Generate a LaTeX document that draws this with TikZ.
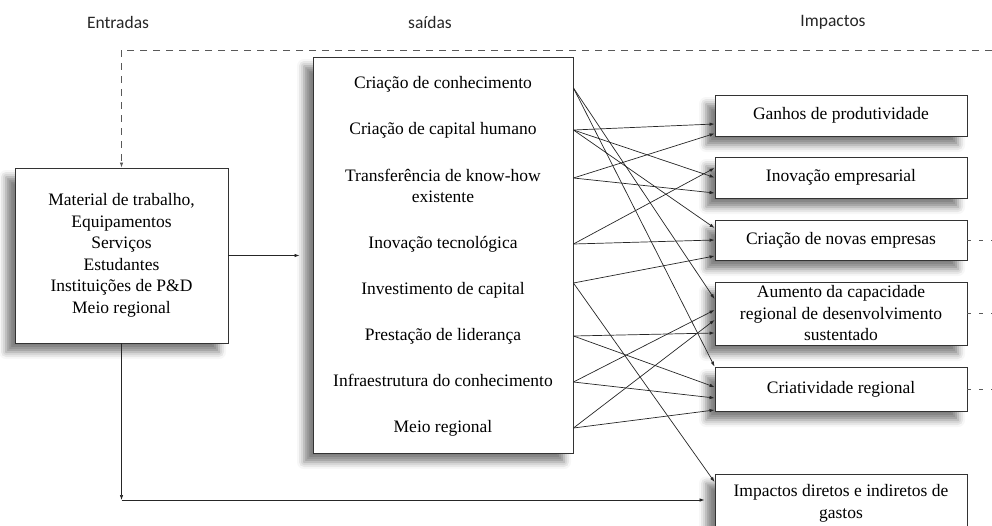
\documentclass[tikz,border=0pt]{standalone}
\usepackage{fontspec}
\setmainfont{Liberation Serif}
\newfontfamily\headfont{Carlito}
\usetikzlibrary{arrows.meta,shadows.blur,calc}

\begin{document}
\begin{tikzpicture}[x=1pt, y=-1pt, font=\fontsize{17.5}{21.5}\selectfont]
  \tikzstyle{box}=[draw=black!80, line width=0.9pt, fill=white, align=center,
     blur shadow={shadow xshift=-9pt, shadow yshift=-9pt, shadow blur radius=7pt, shadow opacity=50}]
  \tikzstyle{impact}=[box, minimum width=252pt, inner ysep=1pt]
  \tikzstyle{item}=[text height=12pt, text depth=4pt, inner sep=0pt]
  \tikzstyle{head}=[font=\headfont\fontsize{17.5}{20}\selectfont, text=black!85]
  \tikzstyle{link}=[draw=black!85, line width=0.7pt, -{Latex[length=5pt,width=3.5pt]}]
  \tikzstyle{feed}=[draw=black!65, line width=0.8pt, dash pattern=on 7pt off 6pt]

  \useasboundingbox (0,0) rectangle (992,525);

  \node[head] (hin)  at (118,22) {Entradas};
  \node[head] (hout) at (430,22) {saídas};
  \node[head] (himp) at (833,22) {Impactos};

  \node[box, minimum width=213pt, minimum height=175pt] (lbox) at (121.5,255.5)
    {Material de trabalho,\\ Equipamentos\\ Serviços\\ Estudantes\\ Instituições de P\&D\\ Meio regional};

  \node[box, minimum width=260pt, minimum height=396pt] (sbox) at (443,255) {};
  \node[item] (s1) at (443,84)  {Criação de conhecimento};
  \node[item] (s2) at (443,130) {Criação de capital humano};
  \node[align=center, inner sep=0pt] (s3) at (443,186) {Transferência de know-how\\ existente};
  \node[item] (s4) at (443,244) {Inovação tecnológica};
  \node[item] (s5) at (443,290) {Investimento de capital};
  \node[item] (s6) at (443,336) {Prestação de liderança};
  \node[item] (s7) at (443,382) {Infraestrutura do conhecimento};
  \node[item] (s8) at (443,428) {Meio regional};

  \node[impact, minimum height=41pt] (i1) at (841,115.5) {Ganhos de produtividade};
  \node[impact, minimum height=41pt] (i2) at (841,177.5) {Inovação empresarial};
  \node[impact, minimum height=40pt] (i3) at (841,240)   {Criação de novas empresas};
  \node[impact, minimum height=63pt] (i4) at (841,313.5) {Aumento da capacidade\\ regional de desenvolvimento\\ sustentado};
  \node[impact, minimum height=44pt] (i5) at (841,389)   {Criatividade regional};
  \node[impact, inner ysep=10pt, anchor=north] (d) at (841,474) {Impactos diretos e indiretos de\\ gastos};

  % feedback
  \coordinate (fbend) at (992,50);
  \coordinate (fb) at (lbox.north |- fbend);
  \draw[feed] (fbend) -- (fb);
  \draw[feed, -{Latex[length=5pt,width=3.5pt]}] (fb) -- (lbox.north);
  \draw[feed, dash pattern=on 4pt off 8pt] (i3.east) -- (i3.east -| fbend);
  \draw[feed, dash pattern=on 4pt off 8pt] (i4.east) -- (i4.east -| fbend);
  \draw[feed, dash pattern=on 4pt off 8pt] (i5.east) -- (i5.east -| fbend);

  \draw[link, shorten >=13pt] (lbox.east) -- (lbox.east -| sbox.west);
  \coordinate (corner) at (lbox.south |- 0,500);
  \draw[link] (lbox.south) -- (corner);
  \draw[link, shorten >=10pt] (corner) -- (corner -| d.west);

  \draw[link] ($(sbox.east |- s1)+(0,4)$) -- ([yshift=14.5pt]i4.west);
  \draw[link] ($(sbox.east |- s1)+(0,4)$) -- (i5.north west);
  \draw[link] (sbox.east |- s2) -- ([yshift=-8.5pt]i1.west);
  \draw[link] (sbox.east |- s2) -- (i2.west);
  \draw[link] (sbox.east |- s2) -- ([yshift=12pt]i3.west);
  \draw[link] ($(sbox.east |- s3)+(0,-8)$) -- ([yshift=-18pt]i1.west);
  \draw[link] ($(sbox.east |- s3)+(0,-8)$) -- ([yshift=-15.5pt]i2.west);
  \draw[link] (sbox.east |- s4) -- ([yshift=9.5pt]i2.west);
  \draw[link] (sbox.east |- s4) -- (i3.west);
  \draw[link] ($(sbox.east |- s5)+(0,-7)$) -- ([yshift=-16pt]i3.west);
  \draw[link] ($(sbox.east |- s5)+(0,-7)$) -- ([yshift=-8pt]d.north west);
  \draw[link] (sbox.east |- s6) -- ([yshift=-19.5pt]i4.west);
  \draw[link] (sbox.east |- s6) -- ([yshift=2pt]i5.west);
  \draw[link] (sbox.east |- s7) -- ([yshift=3.5pt]i4.west);
  \draw[link] (sbox.east |- s7) -- ([yshift=-9pt]i5.west);
  \draw[link] (sbox.east |- s8) -- ([yshift=-6.5pt]i4.west);
  \draw[link] (sbox.east |- s8) -- ([yshift=-21pt]i5.west);
\end{tikzpicture}
\end{document}
